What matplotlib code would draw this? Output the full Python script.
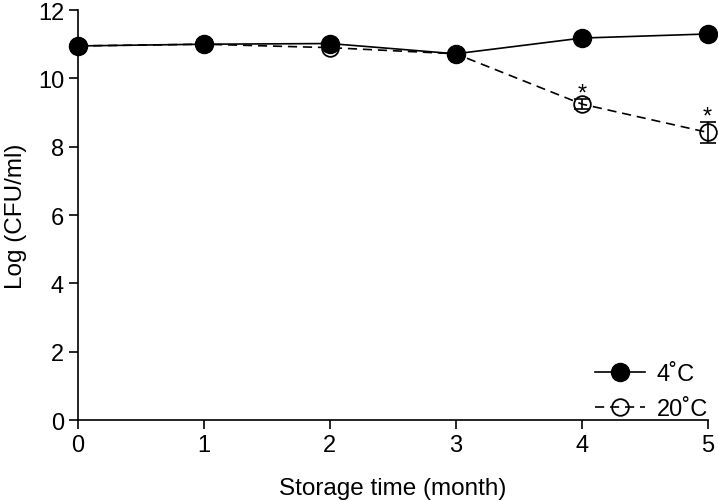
import matplotlib
matplotlib.use("Agg")
import matplotlib.pyplot as plt

plt.rcParams["font.family"] = ["Liberation Sans", "DejaVu Sans"]

months = [0, 1, 2, 3, 4, 5]
cold = [10.95, 11.0, 11.02, 10.72, 11.18, 11.3]
warm = [10.95, 11.0, 10.9, 10.72, 9.25, 8.42]
warm_err = [0.0, 0.0, 0.0, 0.0, 0.15, 0.3]
star_months = [4, 5]

fig = plt.figure(figsize=(7.18, 5.02), dpi=100)
ax = fig.add_axes([0.1086, 0.161, 0.877, 0.817])

ax.errorbar(months, warm, yerr=warm_err, fmt="none", ecolor="black",
            elinewidth=1.2, capsize=6, capthick=1.2, clip_on=False, zorder=2)
ax.plot(months, warm, color="black", linewidth=1.2, dashes=(5.5, 3.5), marker="o",
        markersize=12, markerfacecolor="none", markeredgewidth=1.3,
        label="20˚C", clip_on=False, zorder=3)
ax.plot(months, cold, "-", color="black", linewidth=1.2, marker="o",
        markersize=13, markerfacecolor="black", label="4˚C", clip_on=False, zorder=4)

for m in star_months:
    ax.text(m, warm[m] + warm_err[m] - 0.02, "*", ha="center", va="baseline",
            fontsize=17)

ax.set_xlim(0, 5)
ax.set_ylim(0, 12)
ax.set_xticks(months)
ax.set_yticks(range(0, 13, 2))
ax.spines["top"].set_visible(False)
ax.spines["right"].set_visible(False)
for s in ("left", "bottom"):
    ax.spines[s].set_linewidth(1.2)
ax.tick_params(direction="out", length=6.5, width=1.2, labelsize=17)
ax.set_xlabel("Storage time (month)", fontsize=17.5, labelpad=15)
ax.set_ylabel("Log (CFU/ml)", fontsize=17.5, labelpad=8)

handles, labels = ax.get_legend_handles_labels()
ax.legend(handles[::-1], labels[::-1], loc="lower right", frameon=False, fontsize=17,
          handlelength=2.1, handletextpad=0.5, labelspacing=0.55,
          borderpad=0.0, borderaxespad=0.0)

fig.savefig("out.png", dpi=100)
